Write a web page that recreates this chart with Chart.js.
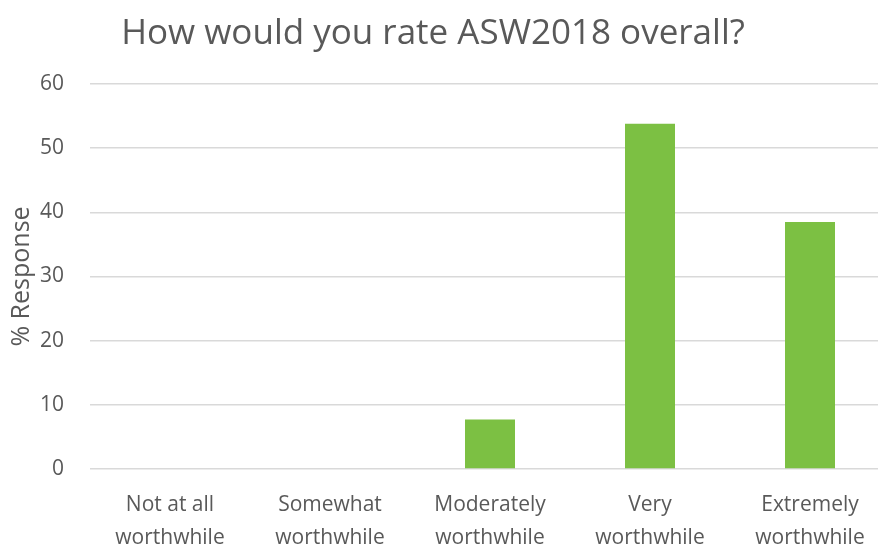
<!DOCTYPE html>
<html>
<head>
<meta charset="utf-8">
<script src="https://cdn.jsdelivr.net/npm/chart.js@4.4.0/dist/chart.umd.min.js"></script>
<style>
  html, body { margin: 0; padding: 0; overflow: hidden; background: #fff; }
  #wrap { width: 890px; height: 547px; }
</style>
</head>
<body>
<div id="wrap"><canvas id="chart-rating"></canvas></div>
<script>
var categories = [
    ['Not at all', 'worthwhile'],
    ['Somewhat', 'worthwhile'],
    ['Moderately', 'worthwhile'],
    ['Very', 'worthwhile'],
    ['Extremely', 'worthwhile']
];
var responses = [0, 0, 7.7, 53.8, 38.5];
var yTicks = [0, 10, 20, 30, 40, 50, 60];

document.addEventListener("DOMContentLoaded", function() {
    var ctx = document.getElementById("chart-rating").getContext('2d');
    var textColor = '#595959';
    var fontFamily = "'Open Sans', 'Noto Sans', sans-serif";

    var data = {
        labels: categories,
        datasets: [{
            label: '% Response',
            data: responses,
            backgroundColor: '#7CC043',
            barPercentage: 0.3125,
            categoryPercentage: 1.0
        }]
    };

    // the canvas is a bit wider than the window, so center the title on the visible part
    var titleShift = {
        id: 'titleShift',
        afterLayout: function(chart) {
            if (chart.titleBlock) {
                chart.titleBlock.right = chart.titleBlock.right - 24;
            }
        }
    };

    var chartOptions = {
        responsive: true,
        maintainAspectRatio: false,
        animation: false,
        layout: { padding: 0 },
        plugins: {
            legend: { display: false },
            tooltip: { enabled: false },
            title: {
                display: true,
                text: 'How would you rate ASW2018 overall?',
                color: textColor,
                font: { family: fontFamily, size: 35, weight: 'normal', lineHeight: 1.2 },
                padding: { top: 13, bottom: 29 }
            }
        },
        scales: {
            x: {
                grid: { display: false, drawTicks: false },
                border: { display: false },
                ticks: {
                    color: textColor,
                    padding: 20,
                    maxRotation: 0,
                    font: { family: fontFamily, size: 21, lineHeight: 1.55 }
                },
                afterFit: function(scale) { scale.height = 78; }
            },
            y: {
                min: 0,
                max: 60,
                afterBuildTicks: function(scale) {
                    scale.ticks = yTicks.map(function(v) { return { value: v }; });
                },
                grid: { color: '#d9d9d9', lineWidth: 1.5, drawTicks: false },
                border: { display: false },
                ticks: {
                    color: textColor,
                    padding: 26,
                    font: { family: fontFamily, size: 21 }
                },
                title: {
                    display: true,
                    text: '% Response',
                    color: textColor,
                    font: { family: fontFamily, size: 25, weight: 'normal', lineHeight: 1.2 },
                    padding: { top: 7, bottom: 0 }
                },
                afterFit: function(scale) { scale.width = 90; }
            }
        }
    };

    new Chart(ctx, {
        type: 'bar',
        data: data,
        options: chartOptions,
        plugins: [titleShift]
    });
});
</script>
</body>
</html>
